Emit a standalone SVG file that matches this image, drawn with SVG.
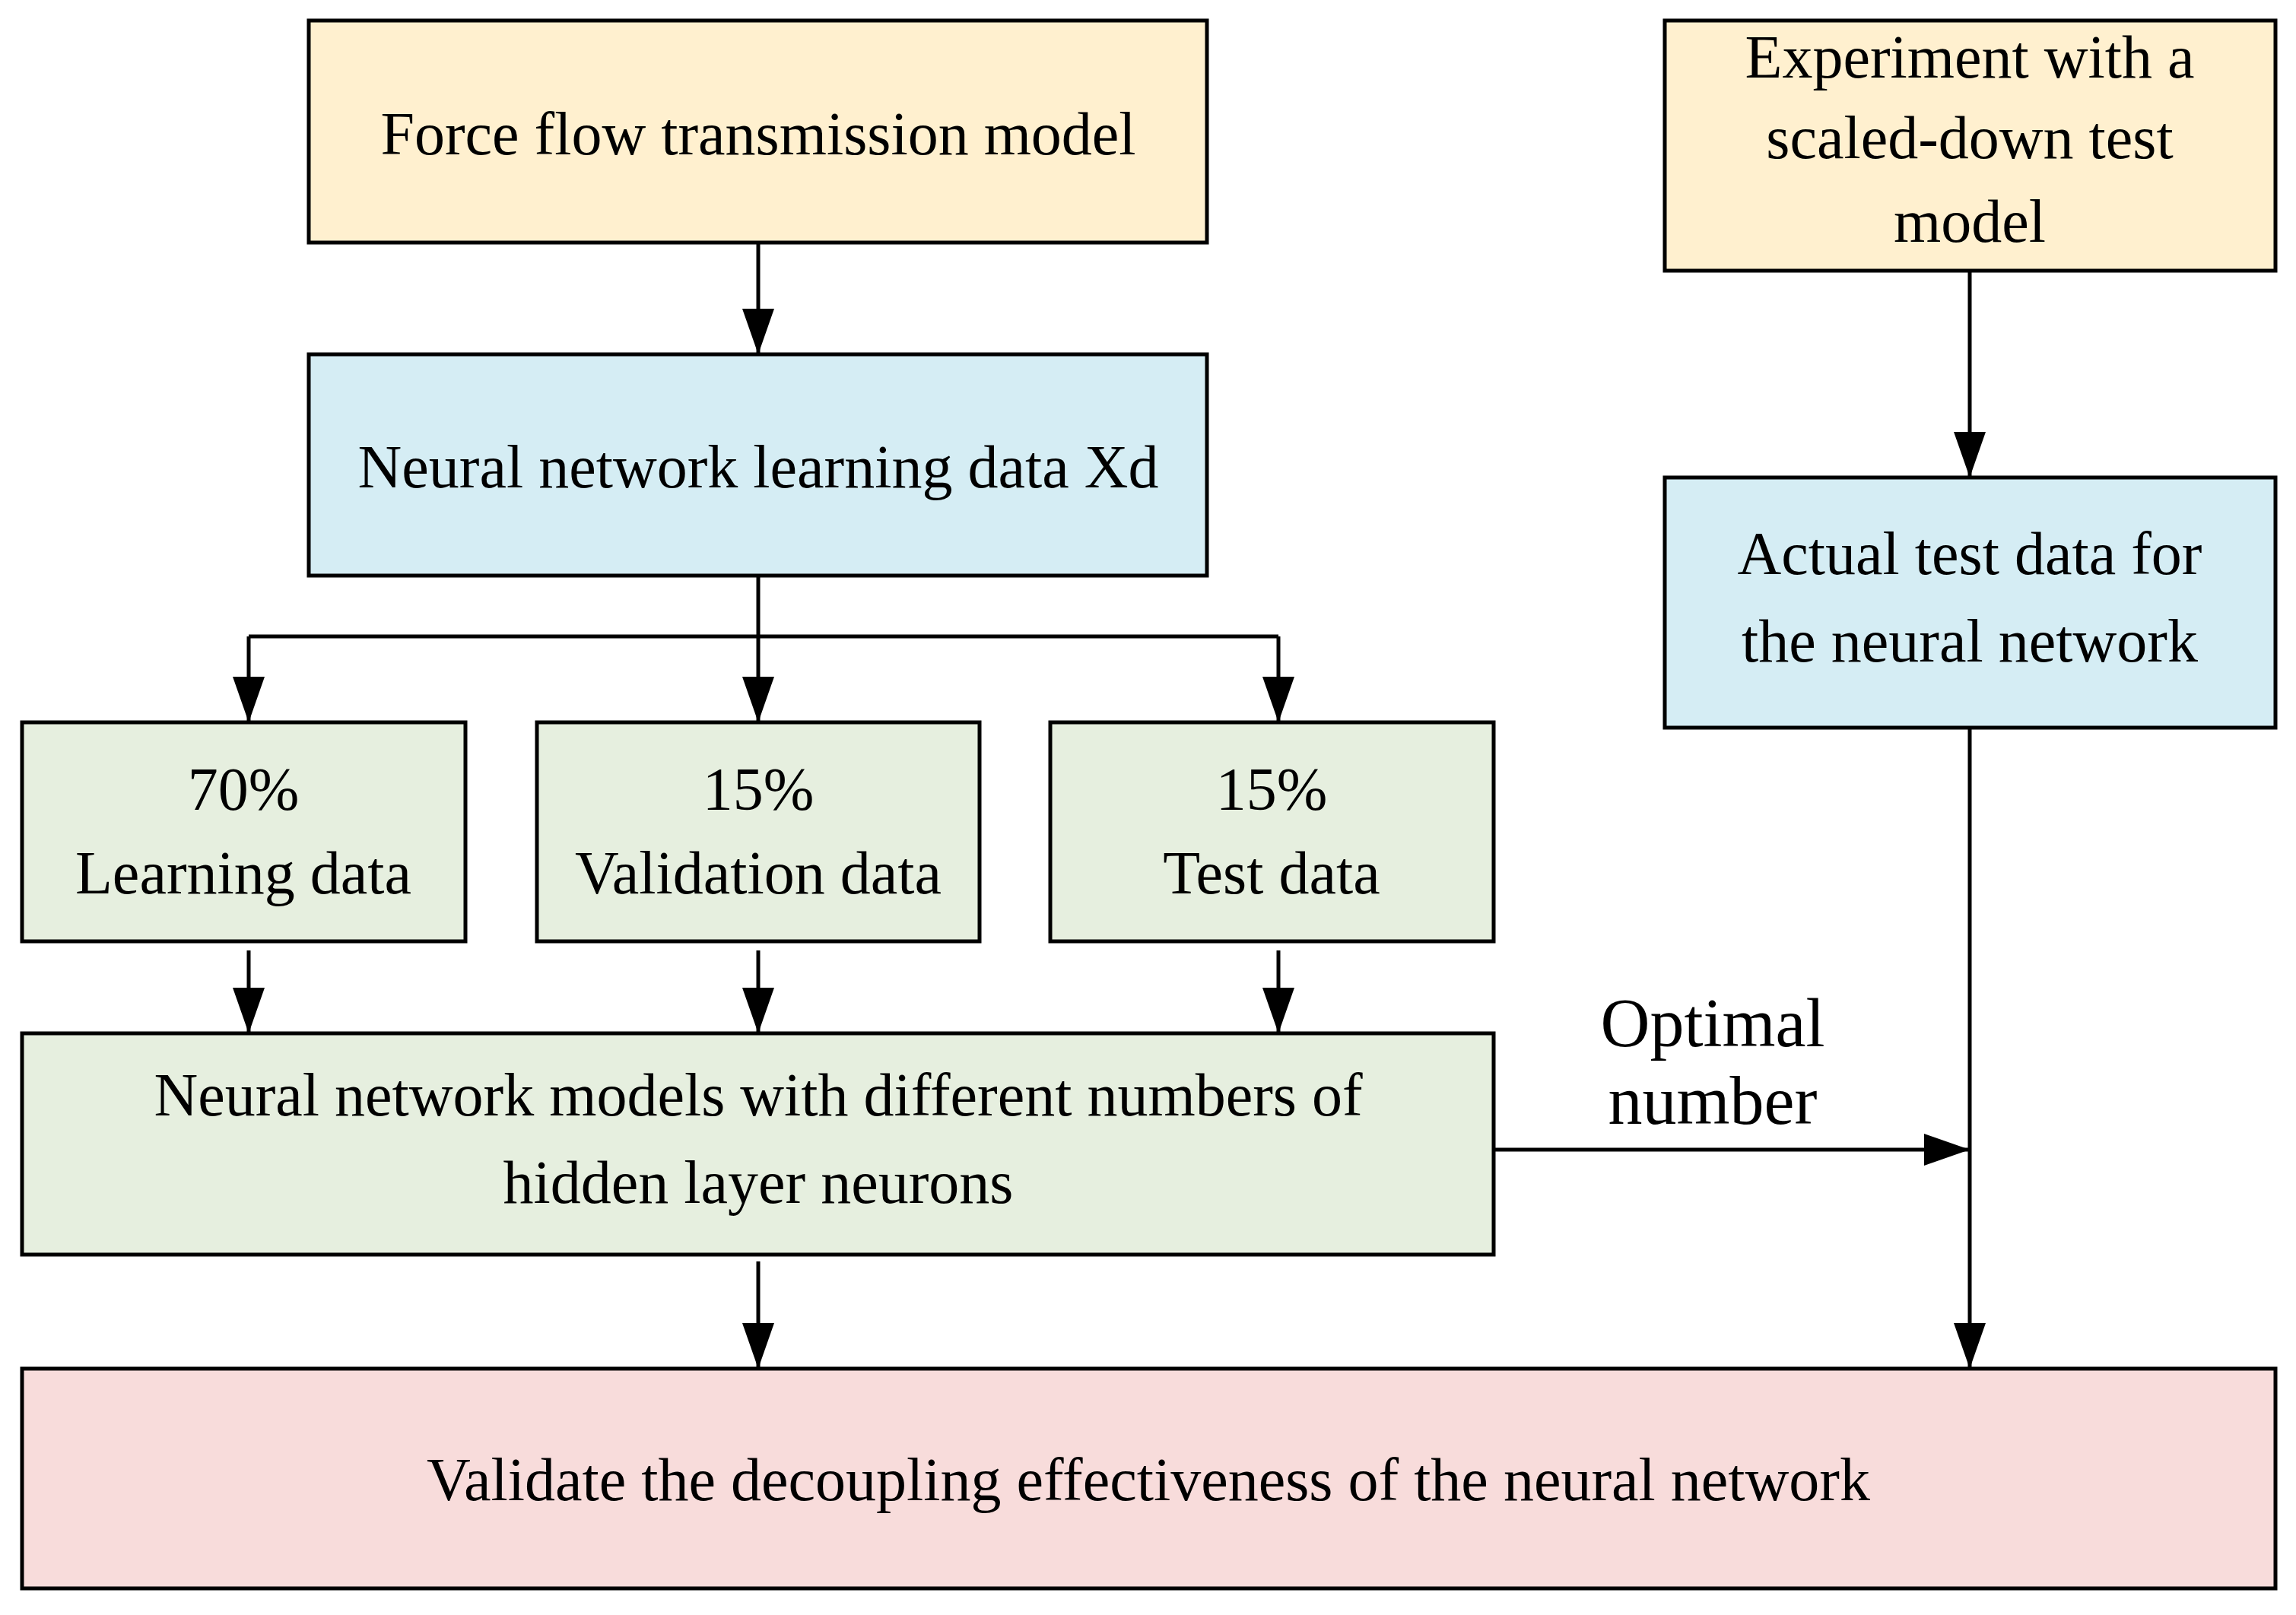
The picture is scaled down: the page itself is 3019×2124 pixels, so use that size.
<svg xmlns="http://www.w3.org/2000/svg" width="3019" height="2124" viewBox="0 0 3019 2124">
<style>
.n rect{stroke:#000;stroke-width:5}
.y{fill:#fff0cf}.b{fill:#d5edf4}.g{fill:#e6efdf}.r{fill:#f8dcdb}
text{font-family:"Liberation Serif",serif;font-size:80px;text-anchor:middle;fill:#000}
.c path{stroke:#000;stroke-width:5;fill:none}
</style>
<defs><marker id="a" markerUnits="userSpaceOnUse" markerWidth="62" markerHeight="42" refX="60" refY="21" orient="auto"><path d="M0,0L60,21L0,42z" fill="#000"/></marker></defs>
<rect width="3019" height="2124" fill="#fff"/>
<g class="n" id="force"><rect class="y" x="406" y="27" width="1181" height="292"/><text x="997" y="203">Force flow transmission model</text></g>
<g class="n" id="experiment"><rect class="y" x="2189" y="27" width="803" height="329"/><text x="2590" y="102">Experiment with a</text><text x="2590" y="208">scaled-down test</text><text x="2590" y="318">model</text></g>
<g class="n" id="learningdata"><rect class="b" x="406" y="466" width="1181" height="291"/><text x="997" y="641">Neural network learning data Xd</text></g>
<g class="n" id="actual"><rect class="b" x="2189" y="628" width="803" height="329"/><text x="2590" y="755">Actual test data for</text><text x="2590" y="870">the neural network</text></g>
<g class="n" id="learn70"><rect class="g" x="29" y="950" width="583" height="288"/><text x="320" y="1065">70%</text><text x="320" y="1175">Learning data</text></g>
<g class="n" id="valid15"><rect class="g" x="706" y="950" width="582" height="288"/><text x="997" y="1065">15%</text><text x="997" y="1175">Validation data</text></g>
<g class="n" id="test15"><rect class="g" x="1381" y="950" width="583" height="288"/><text x="1672" y="1065">15%</text><text x="1672" y="1175">Test data</text></g>
<g class="n" id="models"><rect class="g" x="29" y="1359" width="1935" height="291"/><text x="997" y="1467">Neural network models with different numbers of</text><text x="997" y="1582">hidden layer neurons</text></g>
<g class="n" id="validate"><rect class="r" x="29" y="1800" width="2963" height="289"/><text x="1510" y="1973">Validate the decoupling effectiveness of the neural network</text></g>
<g class="c" id="connectors">
<path d="M997,319V466" marker-end="url(#a)"/>
<path d="M997,757V950" marker-end="url(#a)"/>
<path d="M327,837H1681"/>
<path d="M327,837V950" marker-end="url(#a)"/>
<path d="M1681,837V950" marker-end="url(#a)"/>
<path d="M327,1250V1359" marker-end="url(#a)"/>
<path d="M997,1250V1359" marker-end="url(#a)"/>
<path d="M1681,1250V1359" marker-end="url(#a)"/>
<path d="M997,1659V1800" marker-end="url(#a)"/>
<path d="M2590,356V628" marker-end="url(#a)"/>
<path d="M2590,957V1800" marker-end="url(#a)"/>
<path d="M1964,1512H2590" marker-end="url(#a)"/>
<text x="2252" y="1376" style="font-size:90px">Optimal</text>
<text x="2252" y="1478" style="font-size:90px">number</text>
</g>
</svg>
